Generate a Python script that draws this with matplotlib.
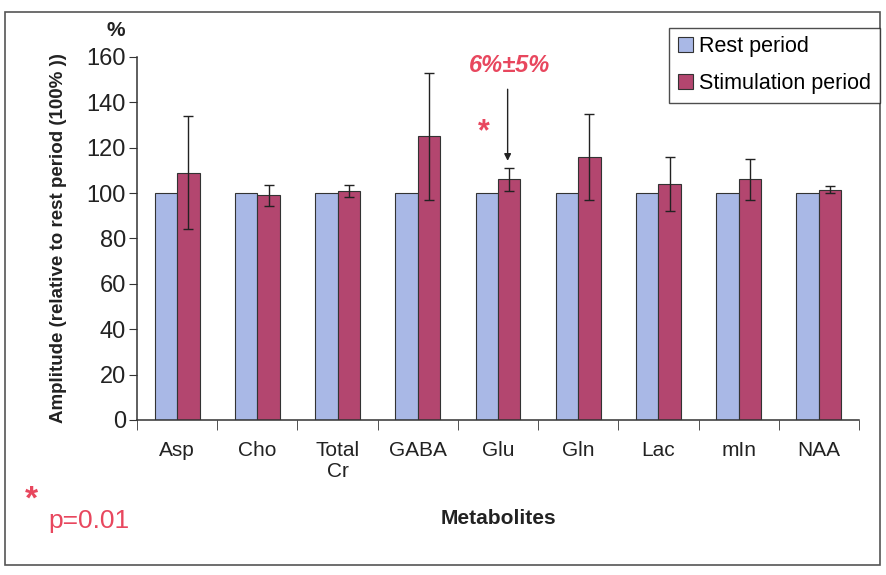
import matplotlib

matplotlib.use("Agg")
import matplotlib.pyplot as plt
from matplotlib.patches import Rectangle
import numpy as np

plt.rcParams["font.family"] = ["Liberation Sans", "DejaVu Sans"]

# dados
metabolitos = ["Asp", "Cho", "Total\nCr", "GABA", "Glu", "Gln", "Lac", "mIn", "NAA"]
repouso = [100, 100, 100, 100, 100, 100, 100, 100, 100]
estimulo = [109, 99, 101, 125, 106, 116, 104, 106, 101.5]
erro_estimulo = [25, 4.5, 2.5, 28, 5, 19, 12, 9, 1.5]
y_ticks = [0, 20, 40, 60, 80, 100, 120, 140, 160]

cor_repouso = "#A9B8E6"
cor_estimulo = "#B3466F"
cor_vermelho = "#E8475E"

fig = plt.figure(figsize=(8.87, 5.75), dpi=100)
fig.patches.append(
    Rectangle((0.006, 0.0174), 0.986, 0.962, transform=fig.transFigure,
              fill=False, edgecolor="#555555", linewidth=1.2)
)

ax = fig.add_axes([0.1545, 0.2696, 0.8139, 0.6313])
x = np.arange(len(metabolitos))
largura = 0.28

ax.bar(x - largura / 2, repouso, largura, color=cor_repouso, edgecolor="#333333",
       linewidth=0.8, label="Rest period")
ax.bar(x + largura / 2, estimulo, largura, color=cor_estimulo, edgecolor="#333333",
       linewidth=0.8, label="Stimulation period")
ax.errorbar(x + largura / 2, estimulo, yerr=erro_estimulo, fmt="none",
            ecolor="#222222", elinewidth=1, capsize=3.5, capthick=1)

ax.set_xlim(-0.5, len(metabolitos) - 0.5)
ax.set_ylim(0, 160)
ax.set_yticks(y_ticks)
ax.tick_params(axis="y", labelsize=17, direction="out", length=6, colors="#333333",
               labelcolor="#222222", pad=2)
ax.set_xticks(x)
ax.set_xticklabels(metabolitos, fontsize=15, color="#222222", linespacing=1.15)
ax.tick_params(axis="x", length=0, pad=15)
ax.set_xticks(np.arange(-0.5, len(metabolitos)), minor=True)
ax.tick_params(axis="x", which="minor", length=7, direction="out", colors="#333333")
for lado in ["top", "right"]:
    ax.spines[lado].set_visible(False)
for lado in ["left", "bottom"]:
    ax.spines[lado].set_color("#333333")
    ax.spines[lado].set_linewidth(1.1)

ax.set_ylabel("Amplitude (relative to rest period (100% ))", fontsize=13.5,
              fontweight="bold", color="#222222", labelpad=14)
ax.set_xlabel("Metabolites", fontsize=15, fontweight="bold", color="#222222",
              labelpad=20)
fig.text(0.13, 0.947, "%", fontsize=15, fontweight="bold", ha="center",
         va="center", color="#222222")

# anotacao Glu
i_glu = 4
ax.annotate("", xy=(i_glu + largura / 2 - 0.02, estimulo[i_glu] + erro_estimulo[i_glu] + 2),
            xytext=(i_glu + largura / 2 - 0.02, 147),
            arrowprops=dict(arrowstyle="-|>", color="#222222", lw=1, mutation_scale=10))
ax.text(i_glu + largura / 2, 151, "6%\u00b15%", color=cor_vermelho, fontsize=17,
        fontweight="bold", fontstyle="italic", ha="center", va="bottom")
ax.text(i_glu - 0.18, 127, "*", color=cor_vermelho, fontsize=22, fontweight="bold",
        ha="center", va="center")

fig.text(0.035, 0.13, "*", color=cor_vermelho, fontsize=24, fontweight="bold",
         ha="center", va="center")
fig.text(0.054, 0.094, "p=0.01", color=cor_vermelho, fontsize=19, ha="left",
         va="center")

handles, labels = ax.get_legend_handles_labels()
leg = fig.legend(handles, labels, loc="upper right", bbox_to_anchor=(0.992, 0.952),
                 fontsize=15.5, frameon=True, fancybox=False, edgecolor="#222222",
                 handlelength=0.7, handleheight=0.7, handletextpad=0.3,
                 borderpad=0.4, labelspacing=0.75, borderaxespad=0)
leg.get_frame().set_linewidth(1)

fig.savefig("out.png", dpi=100)
